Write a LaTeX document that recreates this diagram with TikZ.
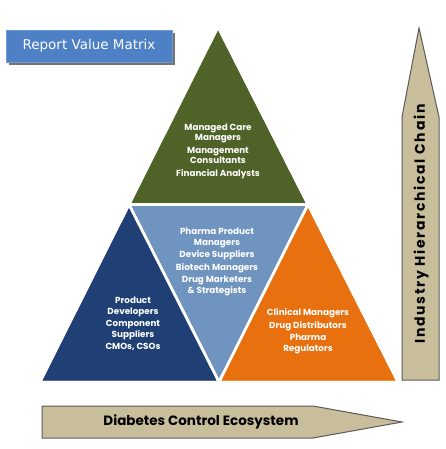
\documentclass[tikz,border=0pt]{standalone}
\usepackage{fontspec}
\setmainfont{Poppins}
\newfontfamily\boxfont{DejaVu Sans}
\newfontfamily\chainfont[LetterSpace=12]{Poppins}
\usetikzlibrary{calc}
\definecolor{topgreen}{HTML}{4F6228}
\definecolor{midblue}{HTML}{7094C0}
\definecolor{leftblue}{HTML}{1F3F75}
\definecolor{rightorange}{HTML}{E8700F}
\definecolor{khaki}{HTML}{C9BE9C}
\definecolor{reportblue}{HTML}{4E80C6}
\tikzset{
  tri/.style={draw=white, line width=2.5pt, line join=miter},
  tritext/.style={text=white, font=\bfseries\fontsize{8.8}{10.5}\selectfont, align=center, inner sep=0pt},
  chain/.style={fill=khaki, draw=black!65, line width=1pt, line join=miter},
  chaintext/.style={font=\bfseries\fontsize{13.5}{15}\selectfont, inner sep=0pt},
}
\begin{document}
\begin{tikzpicture}[x=1pt,y=-1pt]
    \useasboundingbox (0,0) rectangle (445,449);
    % corners of the big triangle
    \coordinate (bl) at (40,382);
    \coordinate (br) at (398,382);
    \coordinate (apex) at (218,27);
    \coordinate (ml) at ($(bl)!0.5!(apex)$);
    \coordinate (mr) at ($(br)!0.5!(apex)$);
    \coordinate (mb) at ($(bl)!0.5!(br)$);

    \fill[tri, fill=topgreen] (apex) -- (ml) -- (mr) -- cycle;
    \fill[tri, fill=midblue] (ml) -- (mr) -- (mb) -- cycle;
    \fill[tri, fill=leftblue] (ml) -- (bl) -- (mb) -- cycle;
    \fill[tri, fill=rightorange] (mr) -- (mb) -- (br) -- cycle;
    \draw[tri] (apex) -- (ml) -- (mr) -- cycle (ml) -- (mb) -- (mr)
      (ml) -- (bl) -- (br) -- (mr);

    \node[tritext] (top) at (218,151) {Managed Care\\Managers\\[2pt]Management\\Consultants\\[2pt]Financial Analysts};
    \node[tritext] (mid) at (217,262) {Pharma Product\\Managers\\[2pt]Device Suppliers\\[2pt]Biotech Managers\\[2pt]Drug Marketers\\\& Strategists};
    \node[tritext] (left) at (133,324) {Product\\Developers\\[2pt]Component\\Suppliers\\[2pt]CMOs, CSOs};
    \node[tritext] (right) at (308,331) {Clinical Managers\\[2pt]Drug Distributors\\[2pt]Pharma\\Regulators};

    % report label
    \fill[black!55] (9,33) rectangle (175,65);
    \node[fill=reportblue, draw=reportblue!80!white, minimum width=166pt, minimum height=32pt,
      inner sep=0pt, text=white, font=\boxfont\fontsize{13.5}{15}\selectfont] (report) at (89,46) {Report Value Matrix};

    % hierarchy arrow
    \draw[chain] (402,380) -- (402,117) -- (419,28) -- (439,117) -- (439,380) -- cycle;
    \node[chaintext, font=\chainfont\bfseries\fontsize{14}{16}\selectfont, rotate=90] (chain) at (421,224) {Industry Hierarchical Chain};

    % ecosystem arrow
    \draw[chain] (42,406) -- (313,406) -- (402,422) -- (313,438) -- (42,438) -- cycle;
    \node[chaintext] (eco) at (201,422) {Diabetes Control Ecosystem};
\end{tikzpicture}
\end{document}
